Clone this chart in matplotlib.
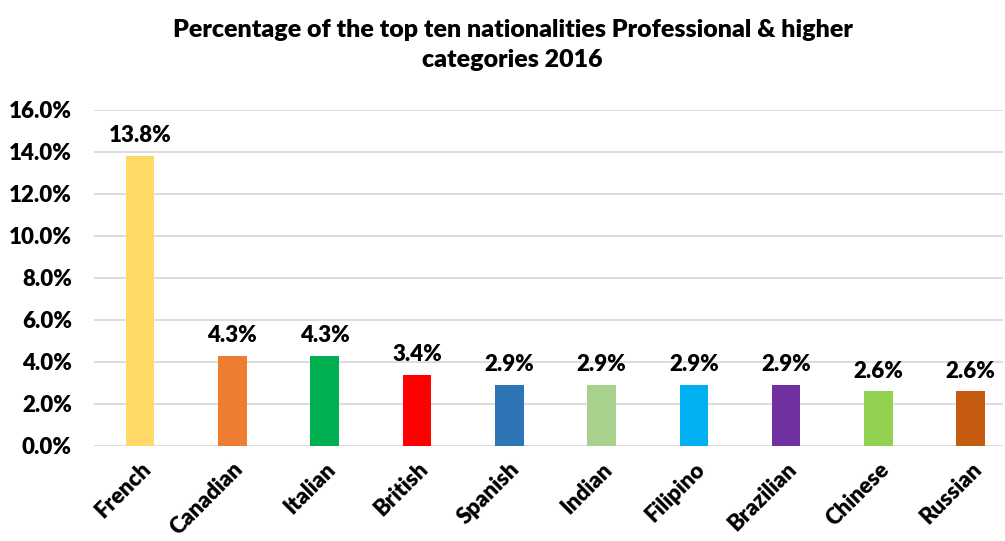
import matplotlib.pyplot as plt

plt.rcParams['font.family'] = ['Lato', 'DejaVu Sans']
plt.rcParams['font.weight'] = 'heavy'

nationalities = ['French', 'Canadian', 'Italian', 'British', 'Spanish',
                 'Indian', 'Filipino', 'Brazilian', 'Chinese', 'Russian']
percentages = [13.8, 4.3, 4.3, 3.4, 2.9, 2.9, 2.9, 2.9, 2.6, 2.6]
colors = ['#FFD966', '#ED7D31', '#00B050', '#FF0000', '#2E75B6',
          '#A9D18E', '#00B0F0', '#7030A0', '#92D050', '#C55A11']
yticks = [0, 2, 4, 6, 8, 10, 12, 14, 16]

fig = plt.figure(figsize=(10.05, 5.41), dpi=100)
ax = fig.add_axes([94 / 1005, 95 / 541, 909 / 1005, 336 / 541])

x = range(len(nationalities))
bars = ax.bar(x, percentages, width=0.31, color=colors, zorder=3)

for b, v in zip(bars, percentages):
    ax.annotate(f'{v:.1f}%', (b.get_x() + b.get_width() / 2, v),
                xytext=(0, 7), textcoords='offset points',
                ha='center', va='bottom', fontsize=16, fontweight='heavy')

ax.set_xlim(-0.5, 9.35)
ax.set_ylim(0, 16)
ax.set_yticks(yticks)
ax.set_yticklabels([f'{t:.1f}%' for t in yticks], fontsize=16, fontweight='heavy')
ax.set_xticks(list(x))
ax.set_xticklabels(nationalities, rotation=45, ha='right', rotation_mode='anchor',
                   fontsize=16, fontweight='heavy')
ax.tick_params(length=0)
ax.tick_params(axis='y', pad=16)
ax.tick_params(axis='x', pad=9)
ax.grid(axis='y', color='#D9D9D9', linewidth=1.3, zorder=0)
for s in ax.spines.values():
    s.set_visible(False)

fig.text(0.51, 1 - 45 / 541, 'Percentage of the top ten nationalities Professional & higher\ncategories 2016',
         ha='center', va='center', fontsize=18, fontweight='heavy', linespacing=1.45)

fig.savefig('out.png', dpi=100)
